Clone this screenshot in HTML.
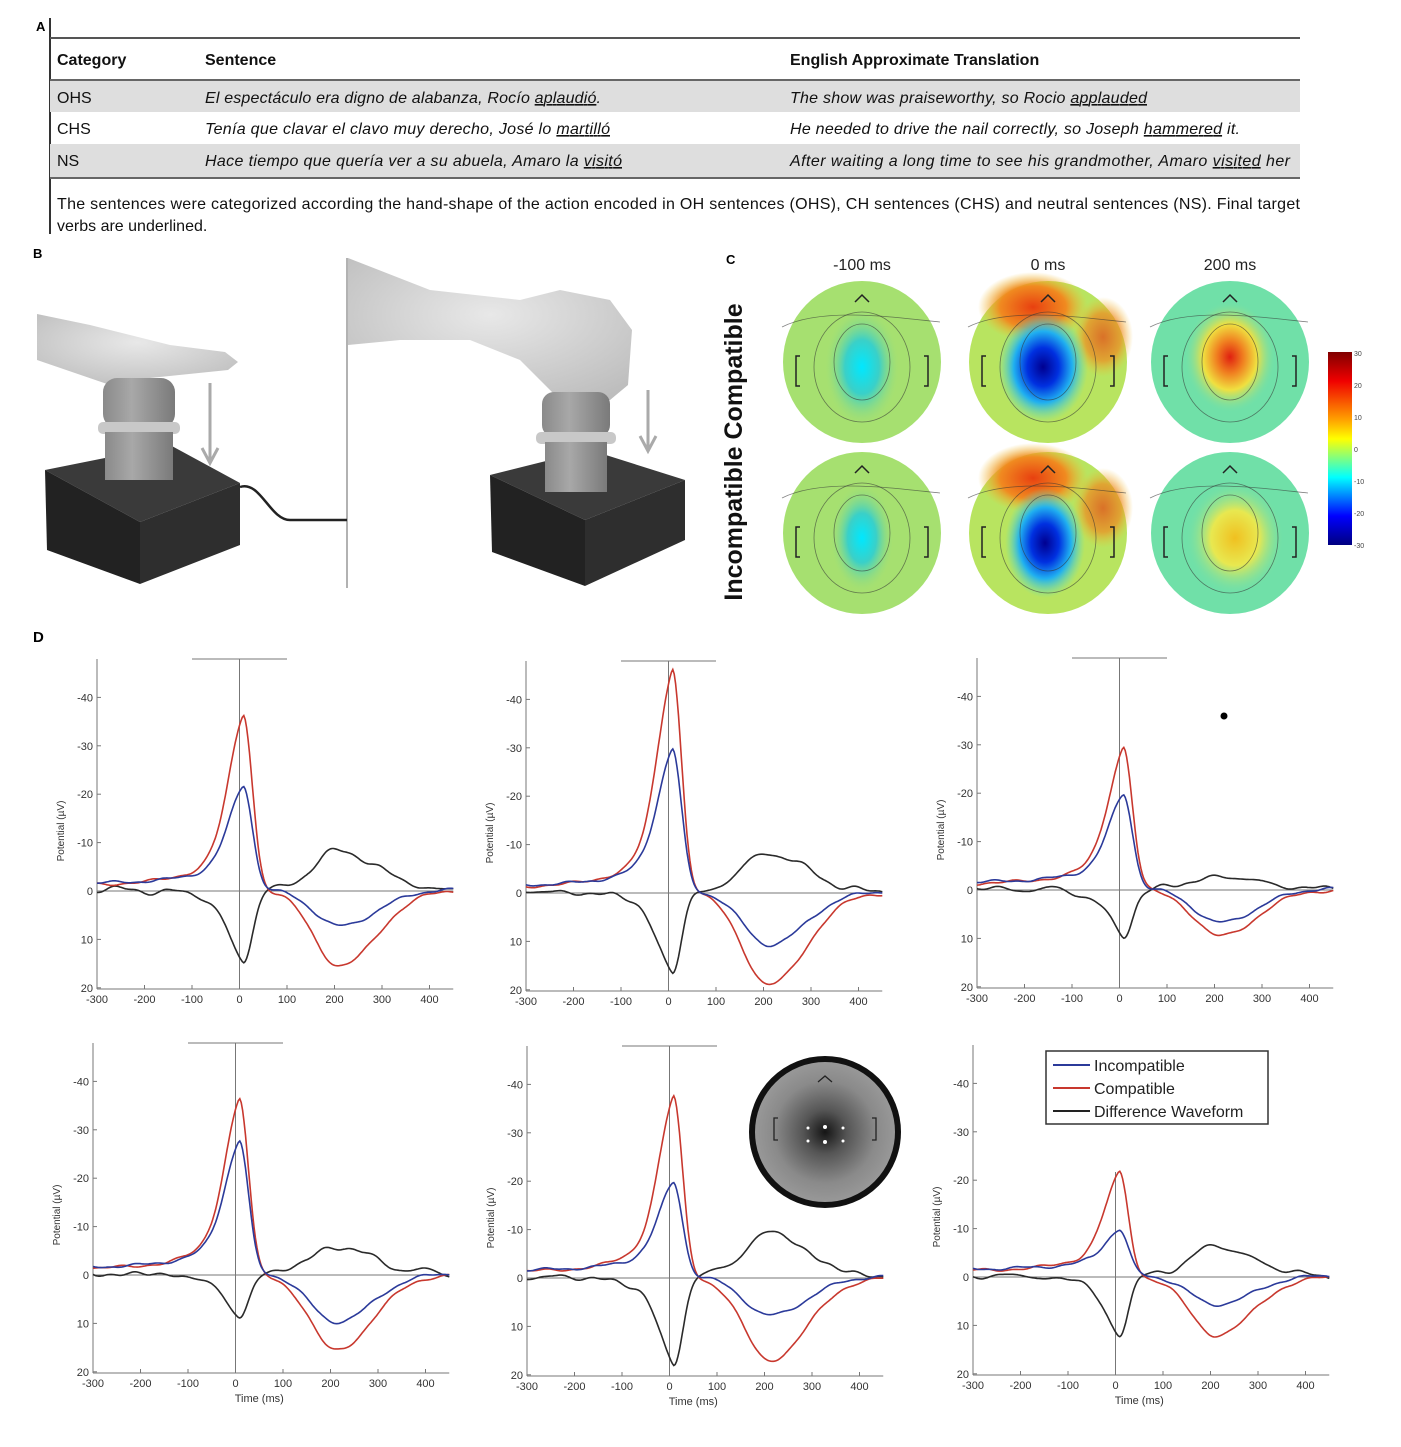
<!DOCTYPE html>
<html><head><meta charset="utf-8"><style>
html,body{margin:0;padding:0;background:#fff;}
svg{display:block;font-family:"Liberation Sans",sans-serif;}
</style></head><body>
<svg id="s" width="1401" height="1447" viewBox="0 0 1401 1447" xmlns="http://www.w3.org/2000/svg">
<defs>
<radialGradient id="gHand" cx="0.5" cy="0.4" r="0.7"><stop offset="0" stop-color="#e8e8e8"/><stop offset="1" stop-color="#bdbdbd"/></radialGradient>
<linearGradient id="gCyl" x1="0" x2="1"><stop offset="0" stop-color="#8a8a8a"/><stop offset="0.4" stop-color="#a8a8a8"/><stop offset="1" stop-color="#7a7a7a"/></linearGradient>
<radialGradient id="bl1" cx="0.5" cy="0.5" r="0.5"><stop offset="0" stop-color="#00e8ff"/><stop offset="0.45" stop-color="#3ad0c8"/><stop offset="1" stop-color="#a8e070" stop-opacity="0"/></radialGradient>
<radialGradient id="bl2" cx="0.5" cy="0.5" r="0.5"><stop offset="0" stop-color="#000090"/><stop offset="0.35" stop-color="#0030e0"/><stop offset="0.65" stop-color="#20b0f0"/><stop offset="1" stop-color="#60e0c0" stop-opacity="0"/></radialGradient>
<radialGradient id="rd1" cx="0.5" cy="0.5" r="0.5"><stop offset="0" stop-color="#e02010"/><stop offset="0.3" stop-color="#f08020"/><stop offset="0.6" stop-color="#f0e040"/><stop offset="1" stop-color="#80e0a0" stop-opacity="0"/></radialGradient>
<radialGradient id="rd2" cx="0.5" cy="0.5" r="0.5"><stop offset="0" stop-color="#f0c020"/><stop offset="0.5" stop-color="#e8e850"/><stop offset="1" stop-color="#80e0a0" stop-opacity="0"/></radialGradient>
<radialGradient id="top" cx="0.5" cy="0.5" r="0.5"><stop offset="0" stop-color="#e84010"/><stop offset="0.6" stop-color="#f08a20"/><stop offset="1" stop-color="#f0c030" stop-opacity="0"/></radialGradient>
<linearGradient id="cbar" x1="0" y1="0" x2="0" y2="1"><stop offset="0" stop-color="#800000"/><stop offset="0.15" stop-color="#f00000"/><stop offset="0.35" stop-color="#ffa000"/><stop offset="0.45" stop-color="#ffff00"/><stop offset="0.55" stop-color="#80ff80"/><stop offset="0.65" stop-color="#00ffff"/><stop offset="0.85" stop-color="#0000ff"/><stop offset="1" stop-color="#000080"/></linearGradient>
<radialGradient id="gray" cx="0.5" cy="0.5" r="0.5"><stop offset="0" stop-color="#151515"/><stop offset="0.3" stop-color="#555"/><stop offset="0.7" stop-color="#8a8a8a"/><stop offset="1" stop-color="#9a9a9a"/></radialGradient>
</defs>

<!-- Panel A -->
<text x="36" y="31" font-size="13" font-weight="bold">A</text>
<line x1="50" y1="18" x2="50" y2="234" stroke="#333" stroke-width="2"/>
<line x1="50" y1="38" x2="1300" y2="38" stroke="#555" stroke-width="2"/>
<rect x="50" y="81" width="1250" height="31" fill="#dedede"/>
<rect x="50" y="144" width="1250" height="33" fill="#dedede"/>
<line x1="50" y1="80" x2="1300" y2="80" stroke="#666" stroke-width="2"/>
<line x1="50" y1="178" x2="1300" y2="178" stroke="#666" stroke-width="2"/>
<g font-size="16" fill="#111">
<text x="57" y="65" font-weight="bold">Category</text>
<text x="205" y="65" font-weight="bold">Sentence</text>
<text x="790" y="65" font-weight="bold">English Approximate Translation</text>
<text x="57" y="103">OHS</text>
<text x="57" y="134">CHS</text>
<text x="57" y="166">NS</text>
<g font-style="italic">
<text x="205" y="103" textLength="396">El espectáculo era digno de alabanza, Rocío <tspan text-decoration="underline">aplaudió</tspan>.</text>
<text x="205" y="134" textLength="405">Tenía que clavar el clavo muy derecho, José lo <tspan text-decoration="underline">martilló</tspan></text>
<text x="205" y="166" textLength="417">Hace tiempo que quería ver a su abuela, Amaro la <tspan text-decoration="underline">visitó</tspan></text>
<text x="790" y="103" textLength="357">The show was praiseworthy, so Rocio <tspan text-decoration="underline">applauded</tspan></text>
<text x="790" y="134" textLength="450">He needed to drive the nail correctly, so Joseph <tspan text-decoration="underline">hammered</tspan> it.</text>
<text x="790" y="166" textLength="500">After waiting a long time to see his grandmother, Amaro <tspan text-decoration="underline">visited</tspan> her</text>
</g>
<text x="57" y="209" textLength="1243">The sentences were categorized according the hand-shape of the action encoded in OH sentences (OHS), CH sentences (CHS) and neutral sentences (NS). Final target</text>
<text x="57" y="231">verbs are underlined.</text>
</g>

<!-- Panel B -->
<text x="33" y="258" font-size="13" font-weight="bold">B</text>
<line x1="347" y1="258" x2="347" y2="588" stroke="#999" stroke-width="1.5"/>
<path d="M37,314 L90,325 L170,345 L225,352 L238,362 L228,370 L150,378 L110,385 L37,360 Z" fill="url(#gHand)"/>
<path d="M45,470 L170,445 L240,483 L140,522 Z" fill="#3a3a3a"/>
<path d="M45,470 L140,522 L140,584 L47,550 Z" fill="#222"/>
<path d="M140,522 L240,483 L240,545 L140,584 Z" fill="#2e2e2e"/>
<path d="M240,487 C260,480 270,520 290,520 L347,520" fill="none" stroke="#222" stroke-width="2.5"/>
<rect x="103" y="378" width="72" height="50" rx="14" fill="url(#gCyl)"/>
<rect x="98" y="422" width="82" height="12" rx="5" fill="#c8c8c8"/>
<rect x="105" y="432" width="68" height="48" fill="url(#gCyl)"/>
<line x1="210" y1="383" x2="210" y2="460" stroke="#aaa" stroke-width="3"/>
<path d="M202,448 L210,463 L218,448" fill="none" stroke="#aaa" stroke-width="3"/>
<path d="M348,258 L430,290 L520,300 L560,290 L610,300 L632,330 L628,385 L610,400 L560,400 L520,360 L470,340 L400,340 L348,345 Z" fill="url(#gHand)"/>
<path d="M490,475 L590,450 L685,480 L585,520 Z" fill="#3a3a3a"/>
<path d="M490,475 L585,520 L585,586 L492,552 Z" fill="#222"/>
<path d="M585,520 L685,480 L685,540 L585,586 Z" fill="#2e2e2e"/>
<rect x="542" y="392" width="68" height="45" rx="12" fill="url(#gCyl)"/>
<rect x="536" y="432" width="80" height="12" rx="5" fill="#c8c8c8"/>
<rect x="545" y="442" width="62" height="50" fill="url(#gCyl)"/>
<line x1="648" y1="390" x2="648" y2="448" stroke="#aaa" stroke-width="3"/>
<path d="M640,436 L648,451 L656,436" fill="none" stroke="#aaa" stroke-width="3"/>

<!-- Panel C -->
<text x="726" y="264" font-size="13" font-weight="bold">C</text>
<g font-size="16" fill="#222" text-anchor="middle"><text x="862" y="270">-100 ms</text><text x="1048" y="270">0 ms</text><text x="1230" y="270">200 ms</text></g>
<text transform="translate(742,452) rotate(-90)" font-size="25" font-weight="bold" text-anchor="middle" fill="#111">Incompatible Compatible</text>
<g id="topos"></g>
<rect x="1328" y="352" width="24" height="193" fill="url(#cbar)"/>
<g font-size="7" fill="#444"><text x="1354" y="356">30</text><text x="1354" y="388">20</text><text x="1354" y="420">10</text><text x="1354" y="452">0</text><text x="1354" y="484">-10</text><text x="1354" y="516">-20</text><text x="1354" y="548">-30</text></g>

<!-- Panel D -->
<text x="33" y="642" font-size="15" font-weight="bold">D</text>
<g id="plots"></g>
<circle cx="825" cy="1132" r="73" fill="url(#gray)" stroke="#111" stroke-width="6"/>
<g fill="#fff"><circle cx="808" cy="1128" r="1.5"/><circle cx="825" cy="1127" r="2"/><circle cx="843" cy="1128" r="1.5"/><circle cx="808" cy="1141" r="1.5"/><circle cx="825" cy="1142" r="2"/><circle cx="843" cy="1141" r="1.5"/></g>
<path d="M778,1118 L774,1118 L774,1140 L778,1140 M872,1118 L876,1118 L876,1140 L872,1140 M818,1082 L825,1076 L832,1082" fill="none" stroke="#222" stroke-width="1.3"/>
<circle cx="1224" cy="716" r="3.5" fill="#000"/>
<rect x="1046" y="1051" width="222" height="73" fill="#fff" stroke="#333" stroke-width="1.5"/>
<g stroke-width="2"><line x1="1053" y1="1065" x2="1090" y2="1065" stroke="#2b3a9a"/><line x1="1053" y1="1088" x2="1090" y2="1088" stroke="#c8382e"/><line x1="1053" y1="1111" x2="1090" y2="1111" stroke="#222"/></g>
<g font-size="16" fill="#222"><text x="1094" y="1071">Incompatible</text><text x="1094" y="1094">Compatible</text><text x="1094" y="1117">Difference Waveform</text></g>
</svg>
<script>
var NS="http://www.w3.org/2000/svg";
function el(p,tag,a,txt){var e=document.createElementNS(NS,tag);for(var k in a)e.setAttribute(k,a[k]);if(txt!==undefined)e.textContent=txt;p.appendChild(e);return e;}
var tg=document.getElementById("topos");
var cx=[862,1048,1230], cy=[362,533];
var cfg=[
 [{base:"#a6e070",spots:[["bl1",0,5,38,60]]},{base:"#b8e460",top:1,spots:[["bl2",-5,5,45,55]]},{base:"#70e0a8",spots:[["rd1",0,-5,45,55]]}],
 [{base:"#a6e070",spots:[["bl1",0,5,32,55]]},{base:"#b8e460",top:1,spots:[["bl2",-3,10,40,55]]},{base:"#70e0a8",spots:[["rd2",5,5,48,55]]}]];
for(var r=0;r<2;r++)for(var c=0;c<3;c++){
 var x=cx[c],y=cy[r],o=cfg[r][c];
 el(tg,"ellipse",{cx:x,cy:y,rx:79,ry:81,fill:o.base});
 if(o.top){el(tg,"ellipse",{cx:x-15,cy:y-55,rx:55,ry:35,fill:"url(#top)"});el(tg,"ellipse",{cx:x+55,cy:y-25,rx:30,ry:40,fill:"url(#top)",opacity:0.7});}
 o.spots.forEach(function(s){el(tg,"ellipse",{cx:x+s[1],cy:y+s[2],rx:s[3],ry:s[4],fill:"url(#"+s[0]+")"});});
 el(tg,"ellipse",{cx:x,cy:y,rx:28,ry:38,fill:"none",stroke:"#333","stroke-width":0.8,opacity:0.6});
 el(tg,"ellipse",{cx:x,cy:y+5,rx:48,ry:55,fill:"none",stroke:"#333","stroke-width":0.8,opacity:0.6});
 el(tg,"path",{d:"M"+(x-80)+","+(y-35)+" C"+(x-40)+","+(y-55)+" "+(x+30)+","+(y-45)+" "+(x+78)+","+(y-40),fill:"none",stroke:"#333","stroke-width":0.8,opacity:0.6});
 el(tg,"path",{d:"M"+(x-62)+","+(y-6)+" l-4,0 l0,30 l4,0 M"+(x+62)+","+(y-6)+" l4,0 l0,30 l-4,0 M"+(x-7)+","+(y-60)+" l7,-7 l7,7",fill:"none",stroke:"#222","stroke-width":1.5});
}
var pg=document.getElementById("plots");
var P=[
 {L:97,Z:891,rp:-36,bp:-21,rl:15.5,bl:7.5,bar:1,time:0},
 {L:526,Z:893,rp:-46,bp:-29,rl:19,bl:11,bar:1,time:0},
 {L:977,Z:890,rp:-29,bp:-19,rl:9.5,bl:7,bar:1,time:0},
 {L:93,Z:1275,rp:-36,bp:-27,rl:15.5,bl:10,bar:1,time:1},
 {L:527,Z:1278,rp:-37,bp:-19,rl:17,bl:8,bar:1,time:1},
 {L:973,Z:1277,rp:-21,bp:-9,rl:12,bl:6,bar:0,time:1}];
var SX=0.475, SY=4.84;
function g(t){return t<8?0.6*Math.exp(-Math.pow((t-8)/45,2))+0.4*Math.exp((t-8)/60):Math.exp(-Math.pow((t-8)/27,2));}
function h(t){return t<210?Math.exp(-Math.pow((t-210)/75,2)):Math.exp(-Math.pow((t-210)/110,2));}
function base(t){return t<-60?-1.3-0.4*(t+300)/240:(t<40?-1.7*(40-t)/100:0);}
P.forEach(function(p,i){
 var X=function(t){return p.L+(t+300)*SX;}, Y=function(v){return p.Z+v*SY;};
 var R=p.L+750*SX, bot=p.Z+98, topY=p.Z-232;
 el(pg,"line",{x1:p.L,y1:topY,x2:p.L,y2:bot,stroke:"#777","stroke-width":1});
 el(pg,"line",{x1:p.L,y1:bot,x2:R,y2:bot,stroke:"#777","stroke-width":1});
 el(pg,"line",{x1:p.L,y1:p.Z,x2:R,y2:p.Z,stroke:"#777","stroke-width":1});
 el(pg,"line",{x1:X(0),y1:(p.bar?topY:p.Z-105),x2:X(0),y2:bot,stroke:"#777","stroke-width":1});
 if(p.bar)el(pg,"line",{x1:X(-100),y1:topY,x2:X(100),y2:topY,stroke:"#777","stroke-width":1});
 [-40,-30,-20,-10,0,10,20].forEach(function(v){el(pg,"line",{x1:p.L,y1:Y(v),x2:p.L+4,y2:Y(v),stroke:"#777"});
  el(pg,"text",{x:p.L-4,y:Y(v)+4,"font-size":11,"text-anchor":"end",fill:"#333"},String(v));});
 [-300,-200,-100,0,100,200,300,400].forEach(function(t){el(pg,"line",{x1:X(t),y1:bot,x2:X(t),y2:bot-4,stroke:"#777"});
  el(pg,"text",{x:X(t),y:bot+14,"font-size":11,"text-anchor":"middle",fill:"#333"},String(t));});
 el(pg,"text",{transform:"translate("+(p.L-33)+","+(p.Z-60)+") rotate(-90)","font-size":10,"text-anchor":"middle",fill:"#333"},"Potential (\u00b5V)");
 if(p.time)el(pg,"text",{x:X(50),y:bot+29,"font-size":11,"text-anchor":"middle",fill:"#333"},"Time (ms)");
 var rd="",bd="",dd="";
 for(var t=-300;t<=450;t+=3){
  var w1=0.25*Math.sin(t/23+i)+0.15*Math.sin(t/9+2*i), w2=0.25*Math.sin(t/19+3*i)+0.12*Math.sin(t/8);
  var rv=p.rp*g(t)+p.rl*h(t)+base(t)+w1;
  var bv=p.bp*g(t)+p.bl*h(t)+base(t)-0.3+w2;
  var dv=bv-rv+0.3*Math.sin(t/17);
  var s=(t==-300?"M":"L");
  rd+=s+X(t).toFixed(1)+","+Y(rv).toFixed(1);
  bd+=s+X(t).toFixed(1)+","+Y(bv).toFixed(1);
  dd+=s+X(t).toFixed(1)+","+Y(dv).toFixed(1);
 }
 el(pg,"path",{d:dd,fill:"none",stroke:"#2a2a2a","stroke-width":1.6});
 el(pg,"path",{d:rd,fill:"none",stroke:"#c8382e","stroke-width":1.6});
 el(pg,"path",{d:bd,fill:"none",stroke:"#2b3a9a","stroke-width":1.6});
});
</script>
</body></html>
